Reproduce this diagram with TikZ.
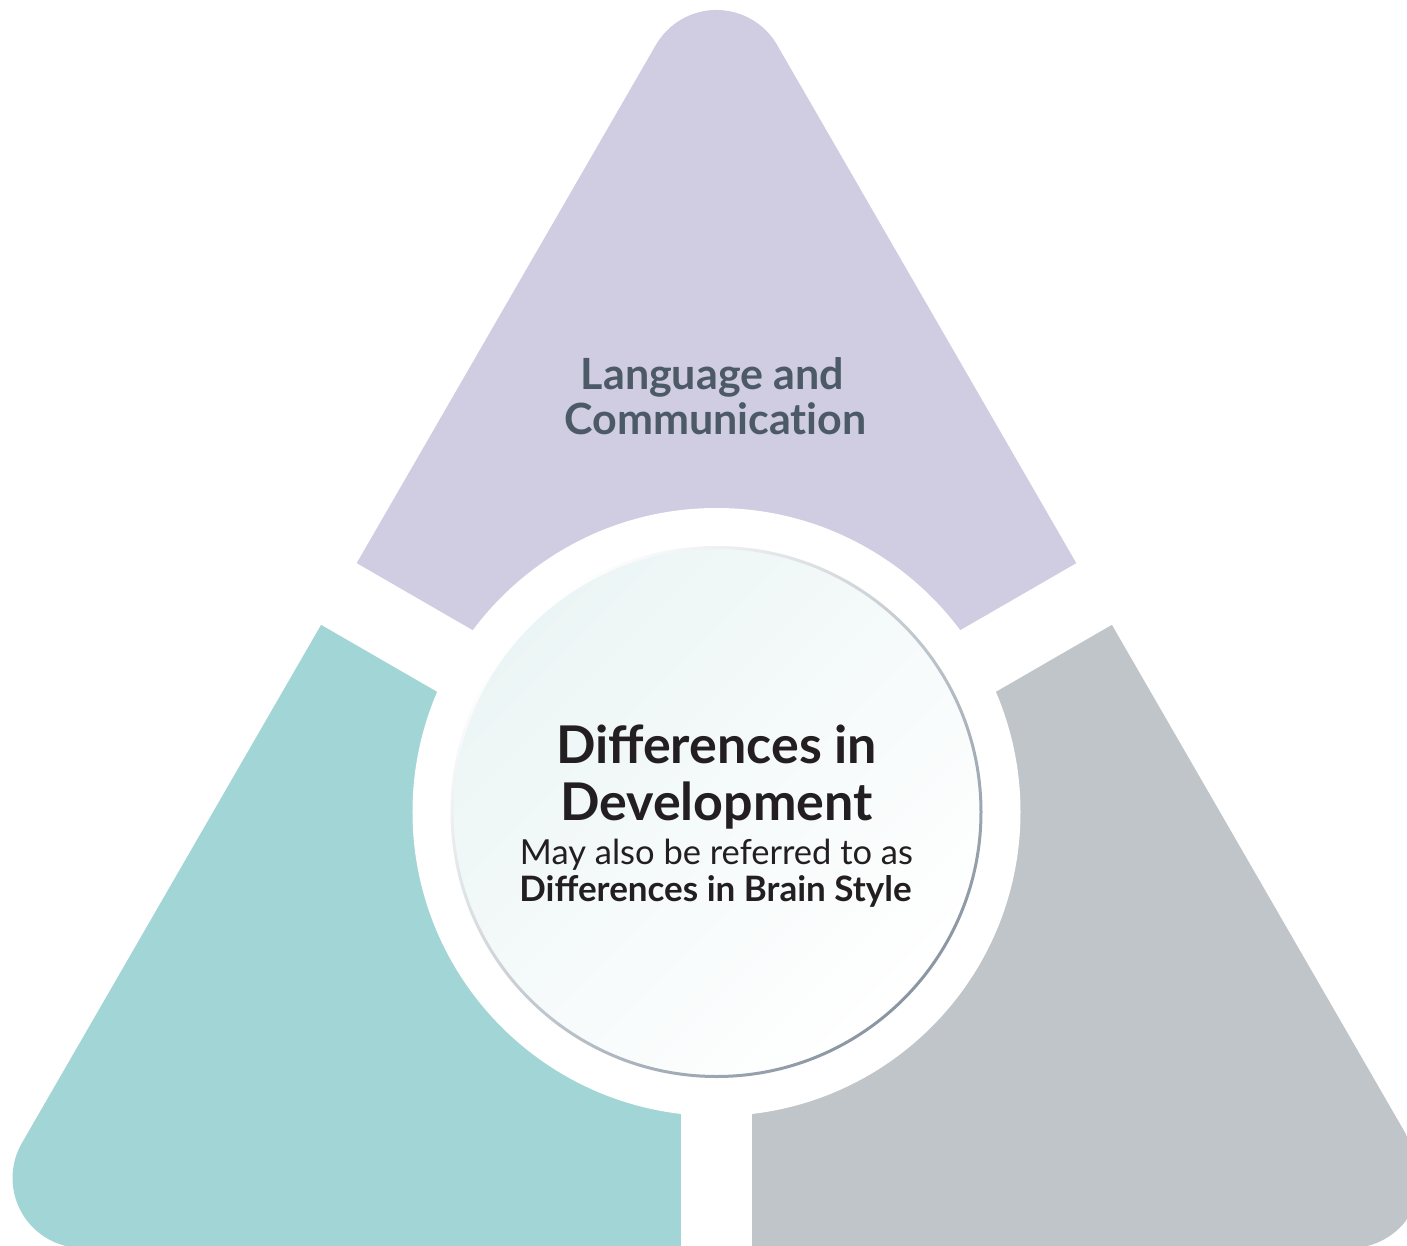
\documentclass[tikz,border=0pt]{standalone}
\usepackage{fontspec}
\setmainfont{Lato}
\usepackage{tikz}
\definecolor{lavfill}{HTML}{D0CCE1}
\definecolor{tealfill}{HTML}{A2D5D5}
\definecolor{greyfill}{HTML}{C0C5C9}
\definecolor{langtxt}{HTML}{4B5A66}
\definecolor{maintxt}{HTML}{231F20}
\definecolor{ringdark}{HTML}{8A96A3}
\definecolor{innerteal}{HTML}{ECF5F5}

\begin{document}
\begin{tikzpicture}[x=1pt,y=1pt]
\tikzset{gap/.style = {white, line width=71pt}}
\tikzset{txt/.style = {inner sep=0pt, anchor=base, text=maintxt}}
\tikzset{langtext/.style = {txt, text=langtxt, font=\addfontfeatures{Ligatures=NoCommon}\bfseries\fontsize{43}{43}\selectfont}}
\tikzset{devtitle/.style = {txt, font=\bfseries\fontsize{52}{52}\selectfont}}
\tikzset{devnote/.style = {txt, font=\fontsize{34.5}{34.5}\selectfont}}
\clip (-716.5,-433) rectangle (690.5,812);
\fill[white] (-716.5,-433) rectangle (690.5,812);
% pieces
\begin{scope}
\clip (90:732) ++(30:70) arc[start angle=30, end angle=150, radius=70]
  -- ([shift={(150:70)}]210:732) arc[start angle=150, end angle=270, radius=70]
  -- ([shift={(270:70)}]330:732) arc[start angle=270, end angle=390, radius=70] -- cycle;
\fill[lavfill] (0,0) -- (30:1200) -- (90:1200) -- (150:1200) -- cycle;
\fill[tealfill] (0,0) -- (150:1200) -- (210:1200) -- (270:1200) -- cycle;
\fill[greyfill] (0,0) -- (270:1200) -- (330:1200) -- (30:1200) -- cycle;
\end{scope}
% gaps
\draw[gap] (0,0) -- (30:1200);
\draw[gap] (0,0) -- (150:1200);
\draw[gap] (0,0) -- (270:1200);
\fill[white] (0,0) circle (304);
% centre
\shade[top color=innerteal, middle color=white, bottom color=white, shading angle=45] (0,0) circle (264);
\shade[even odd rule, top color=ringdark, bottom color=white, shading angle=225] (0,0) circle (266) (0,0) circle (263);
% texts
\node[langtext] (lang) at (-4,422) {Language and};
\node[langtext] (comm) at (-1,377) {Communication};
\node[devtitle] (diff) at (0,49) {Differences in};
\node[devtitle] (dev) at (0,-8) {Development};
\node[devnote] (may) at (0,-52) {May also be referred to as};
\node[devnote, font=\bfseries\fontsize{35}{35}\selectfont] (brain) at (-1,-89) {Differences in Brain Style};
\end{tikzpicture}
\end{document}
